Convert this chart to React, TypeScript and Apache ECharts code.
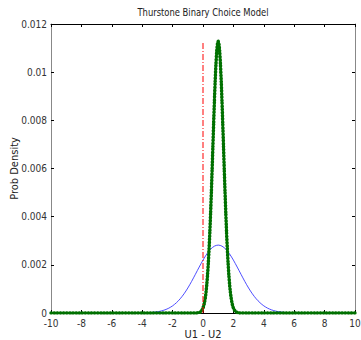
import React, { useEffect, useRef } from "react";
import * as echarts from "echarts";

const titleText = "Thurstone Binary Choice Model";
const xLabel = "U1 - U2";
const yLabel = "Prob Density";

const xTicks = [-10, 10, 2];
const yTicks = [0, 0.012, 0.002];

const blueX = [-10, -6, -5, -4, -3.5, -3, -2.75, -2.5, -2.25, -2, -1.75, -1.5, -1.25, -1, -0.75, -0.5, -0.25, 0, 0.25, 0.5, 0.75, 1, 1.25, 1.5, 1.75, 2, 2.25, 2.5, 2.75, 3, 3.25, 3.5, 3.75, 4, 4.25, 4.5, 4.75, 5, 5.5, 6, 7, 8, 10];
const blueY = [0, 0, 0.0000003, 0.0000054, 0.0000179, 0.0000517, 0.0000838, 0.000132, 0.000201, 0.000297, 0.000426, 0.000591, 0.000795, 0.001037, 0.001311, 0.001607, 0.001908, 0.002196, 0.00245, 0.002649, 0.002776, 0.00282, 0.002776, 0.002649, 0.00245, 0.002196, 0.001908, 0.001607, 0.001311, 0.001037, 0.000795, 0.000591, 0.000426, 0.000297, 0.000201, 0.000132, 0.0000838, 0.0000517, 0.0000179, 0.0000054, 0.0000003, 0, 0];

const greenX = [-10, -8, -6, -4, -2, -1, -0.5, -0.4, -0.3, -0.2, -0.1, 0, 0.05, 0.1, 0.15, 0.2, 0.25, 0.3, 0.35, 0.4, 0.45, 0.5, 0.55, 0.6, 0.65, 0.7, 0.75, 0.8, 0.85, 0.9, 0.95, 1, 1.05, 1.1, 1.15, 1.2, 1.25, 1.3, 1.35, 1.4, 1.45, 1.5, 1.55, 1.6, 1.65, 1.7, 1.75, 1.8, 1.85, 1.9, 1.95, 2, 2.1, 2.2, 2.3, 2.4, 2.5, 3, 4, 6, 8, 10];
const greenY = [0, 0, 0, 0, 0, 0, 0.0000014, 0.0000044, 0.0000131, 0.0000356, 0.0000892, 0.000207, 0.000305, 0.000442, 0.000627, 0.000872, 0.001189, 0.001589, 0.002081, 0.002673, 0.003364, 0.00415, 0.005018, 0.005948, 0.006911, 0.00787, 0.008785, 0.009612, 0.010309, 0.010838, 0.011168, 0.01128, 0.011168, 0.010838, 0.010309, 0.009612, 0.008785, 0.00787, 0.006911, 0.005948, 0.005018, 0.00415, 0.003364, 0.002673, 0.002081, 0.001589, 0.001189, 0.000872, 0.000627, 0.000442, 0.000305, 0.000207, 0.0000892, 0.0000356, 0.0000131, 0.0000044, 0.0000014, 0, 0, 0, 0, 0];

const redX = [0, 0];
const redY = [0, 0.01128];

const FONT = "'DejaVu Sans Condensed', 'Liberation Sans Narrow', sans-serif";

const zip = (xs: number[], ys: number[]) => xs.map((x, i) => [x, ys[i]]);

export default function App() {
  const ref = useRef<HTMLDivElement>(null);
  useEffect(() => {
    if (!ref.current) return;
    const chart = echarts.init(ref.current, null, { renderer: "svg" });
    const axisCommon = {
      axisTick: { inside: true, length: 3, lineStyle: { color: "#000" } },
      splitLine: { show: false },
    };
    chart.setOption({
      animation: false,
      backgroundColor: "#fff",
      grid: { left: 51, right: 6, top: 24, bottom: 27, containLabel: false, outerBoundsMode: "none" },
      graphic: [
        {
          type: "text",
          x: 203,
          y: 12,
          scaleX: 0.85,
          style: { text: titleText, font: `11px ${FONT}`, fill: "#222", align: "center", verticalAlign: "middle" },
        } as any,
      ],
      xAxis: [
        {
          type: "value",
          position: "bottom",
          min: xTicks[0],
          max: xTicks[1],
          interval: xTicks[2],
          name: xLabel,
          nameLocation: "middle",
          nameGap: 16,
          nameMoveOverlap: false,
          nameTextStyle: { fontFamily: FONT, fontSize: 11, lineHeight: 11, color: "#222", verticalAlign: "top" },
          axisLine: { onZero: false, lineStyle: { color: "#000", width: 1 } },
          axisLabel: { margin: 5, fontFamily: FONT, fontSize: 10, lineHeight: 10, color: "#333" },
          ...axisCommon,
        },
        {
          type: "value",
          position: "top",
          min: xTicks[0],
          max: xTicks[1],
          interval: xTicks[2],
          axisLine: { onZero: false, lineStyle: { color: "#000", width: 1 } },
          axisLabel: { show: false },
          ...axisCommon,
        },
      ],
      yAxis: [
        {
          type: "value",
          position: "left",
          min: yTicks[0],
          max: yTicks[1],
          interval: yTicks[2],
          name: yLabel,
          nameLocation: "middle",
          nameGap: 31,
          nameRotate: 90,
          nameMoveOverlap: false,
          nameTextStyle: { fontFamily: FONT, fontSize: 11, color: "#222" },
          axisLine: { show: true, onZero: false, lineStyle: { color: "#888", width: 1 } },
          axisLabel: { margin: 4, fontFamily: FONT, fontSize: 10, lineHeight: 10, color: "#333", formatter: (v: number) => String(+v.toFixed(4)) },
          ...axisCommon,
        },
        {
          type: "value",
          position: "right",
          min: yTicks[0],
          max: yTicks[1],
          interval: yTicks[2],
          axisLine: { show: true, onZero: false, lineStyle: { color: "#888", width: 1 } },
          axisLabel: { show: false },
          ...axisCommon,
        },
      ],
      series: [
        {
          type: "line",
          data: zip(blueX, blueY),
          smooth: 0.3,
          symbol: "none",
          itemStyle: { color: "#3a3aff" },
          lineStyle: { color: "#3a3aff", width: 0.9 },
          z: 2,
        },
        {
          type: "line",
          data: zip(greenX, greenY),
          smooth: 0.2,
          symbol: "none",
          itemStyle: { color: "#008000" },
          lineStyle: { color: "#008000", width: 2 },
          z: 3,
        },
        {
          type: "line",
          data: zip(greenX, greenY),
          smooth: 0.2,
          symbol: "none",
          itemStyle: { color: "#007000" },
          lineStyle: { color: "#007000", width: 3.5, type: [0.5, 2.6], cap: "round" },
          z: 4,
        },
        {
          type: "line",
          data: zip(redX, redY),
          symbol: "none",
          itemStyle: { color: "#ff0000" },
          lineStyle: { color: "#ff0000", width: 1, type: [6, 2, 1, 2] },
          z: 5,
        },
      ],
    });
    return () => chart.dispose();
  }, []);
  return <div ref={ref} style={{ position: "fixed", left: 0, top: 0, width: 361, height: 340 }} />;
}
